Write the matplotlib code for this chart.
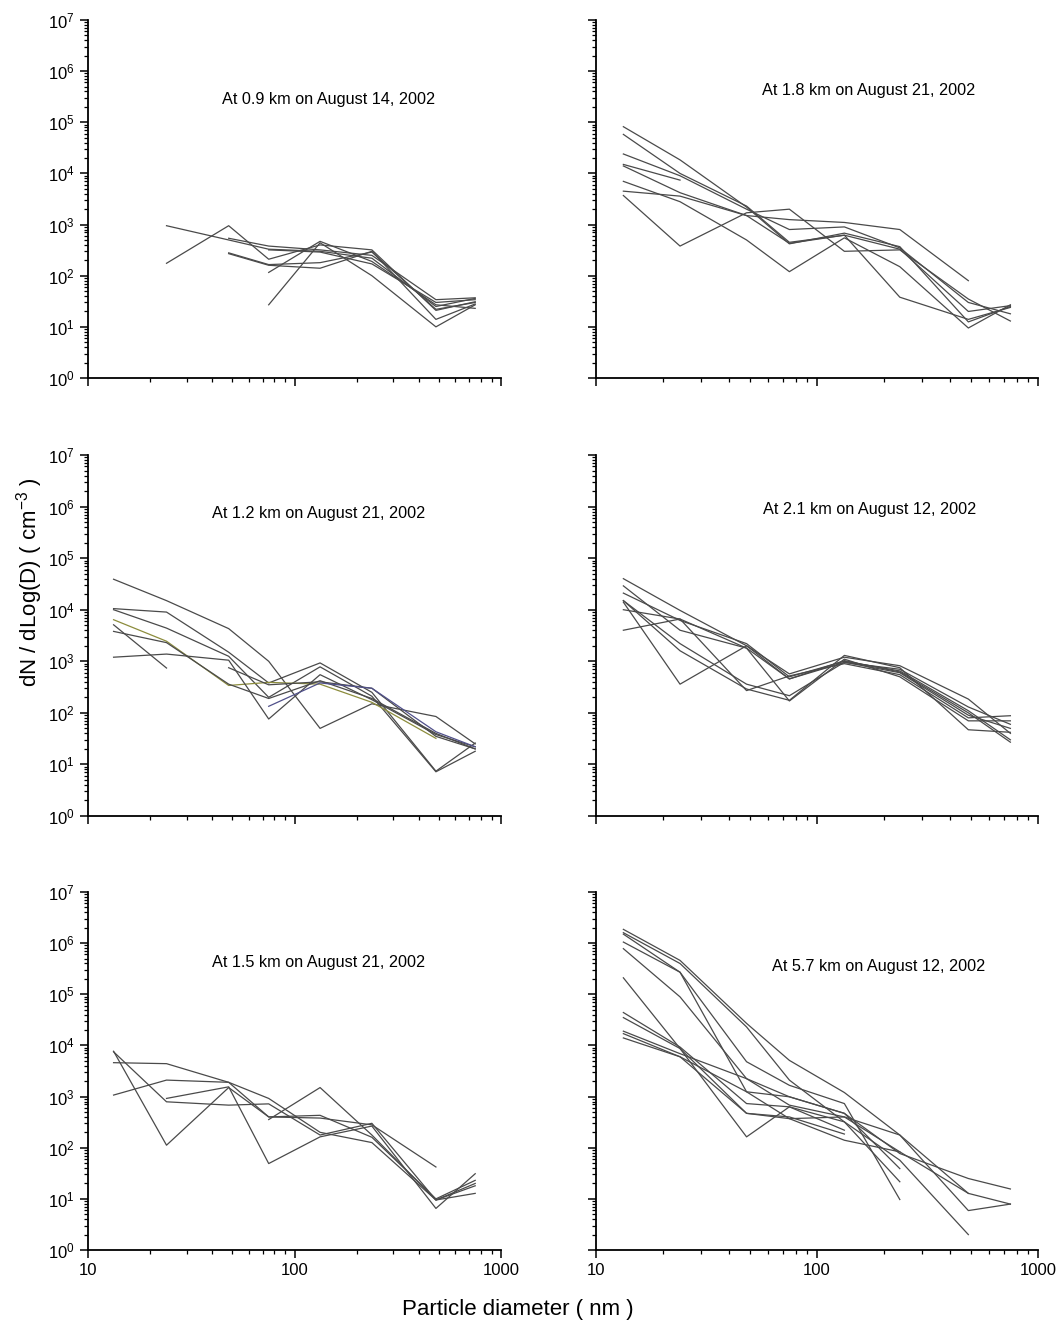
import numpy as np
import matplotlib
matplotlib.use("Agg")
import matplotlib.pyplot as plt
from matplotlib.ticker import LogLocator, FixedLocator, FixedFormatter, NullFormatter

plt.rcParams["font.family"] = ["Liberation Sans", "DejaVu Sans"]
plt.rcParams["mathtext.default"] = "regular"

nan = np.nan

# DMA size bins (nm)
diameter_nm = [13.3, 24, 48, 75, 133, 237, 484, 750]

# dN/dlogD (cm^-3), one row per sample in each flight level
spectra_09km = [
    [nan, 950, 500, 330, 300, 220, 25, 36],
    [nan, 175, 950, 210, 400, 320, 21, 31],
    [nan, nan, nan, 27, 440, 100, 10, 27],
    [nan, nan, 540, 380, 320, 250, 34, 37],
    [nan, nan, 280, 165, 180, 290, 22, 30],
    [nan, nan, 270, 160, 140, 300, 14, 28],
    [nan, nan, nan, 116, 470, 190, 27, 23],
    [nan, nan, nan, 320, 290, 170, 30, 34],
]

spectra_18km = [
    [82000, 18400, 2200, 420, 680, 370, 12.5, 25],
    [58000, 10000, 2300, 450, 620, 330, 20, 26],
    [24000, 9000, 2000, 800, 900, 350, 30, 18],
    [15000, 7400, nan, nan, nan, nan, nan, nan],
    [14000, 4200, 1500, 1250, 1100, 800, 80, nan],
    [7000, 2800, 500, 120, 550, 150, 9.5, 27],
    [4500, 3600, 1500, 430, 620, 38, 14, 24],
    [3700, 380, 1700, 2000, 300, 320, 35, 13],
]

spectra_12km = [
    [39000, 15000, 4300, 1000, 50, 150, 85, 25],
    [10500, 9000, 1500, 380, 930, 250, 7.4, 26],
    [10000, 4400, 1250, 200, 780, 210, 7.2, 18],
    [6400, 2450, 340, 390, 360, 160, 32, nan],
    [5100, 740, nan, nan, nan, nan, nan, nan],
    [3800, 2300, 360, 190, 420, 190, 40, 20],
    [1200, 1380, 1050, 76, 550, 180, 38, 22],
    [nan, nan, 750, 350, 400, 300, 35, 20],
    [nan, nan, nan, 134, 380, 300, 43, 22],
]
# two samples were plotted in colour in the original series
colors_12km = ["#4a4a4a"] * 3 + ["#8c8c3c"] + ["#4a4a4a"] * 4 + ["#50508a"]

spectra_21km = [
    [40000, 9700, 2000, 570, 1200, 820, 185, 40],
    [29000, 4000, 1800, 455, 950, 700, 130, 60],
    [21000, 6200, 2200, 500, 1000, 650, 110, 30],
    [15000, 2200, 360, 215, 960, 600, 90, 50],
    [14000, 360, 2000, 455, 1030, 620, 100, 27],
    [10000, 6600, 270, 520, 900, 550, 80, 88],
    [4000, 6600, 1800, 170, 1100, 500, 70, 70],
    [15000, 1600, 290, 175, 1300, 750, 47, 42],
]

spectra_15km = [
    [7700, 112, 1500, 400, 430, 160, 10, 23],
    [7500, 790, 680, 720, 177, 300, 9.5, 20],
    [4600, 4400, 1900, 920, 200, 126, 9.5, 12.8],
    [1070, 2100, 1900, 400, 380, 280, 42, nan],
    [nan, 920, 1550, 49, 163, 265, 6.5, 31],
    [nan, nan, nan, 355, 1500, 177, 9.5, 18],
]

spectra_57km = [
    [1.86e6, 4.6e5, 2.7e4, 5100, 1200, 177, 5.9, 7.9],
    [1.6e6, 4.0e5, 2.3e4, 2100, 320, 57, 2.0, nan],
    [1.5e6, 2.7e5, 4800, 1660, 730, 9.7, nan, nan],
    [1.05e6, 2.7e5, 1240, 990, 470, 39, nan, nan],
    [7.8e5, 8.9e4, 2240, 680, 400, 83, 12.8, 7.9],
    [2.1e5, 8700, 163, 630, 320, 21.6, nan, nan],
    [4.4e4, 9300, 730, 630, 220, nan, nan, nan],
    [3.5e4, 8700, 470, 400, 185, nan, nan, nan],
    [1.9e4, 6900, 2240, 990, 470, 77, 25, 15.6],
    [1.7e4, 6000, 1240, 370, 140, 83, nan, nan],
    [1.4e4, 6000, 470, 370, 400, 177, 12.8, nan],
]

titles = [
    "At 0.9 km on August 14, 2002", "At 1.8 km on August 21, 2002",
    "At 1.2 km on August 21, 2002", "At 2.1 km on August 12, 2002",
    "At 1.5 km on August 21, 2002", "At 5.7 km on August 12, 2002",
]
spectra = [spectra_09km, spectra_18km, spectra_12km,
           spectra_21km, spectra_15km, spectra_57km]

W, H = 1060, 1329
fig = plt.figure(figsize=(W / 100, H / 100), dpi=100)

# axes boxes in pixels: (left, right) and (top, bottom)
cols = [(88, 501), (596, 1038)]
rows = [(20, 378), (455, 816), (892, 1250)]
text_pos = [(0.324, 0.777), (0.376, 0.804),
            (0.300, 0.839), (0.378, 0.848),
            (0.300, 0.802), (0.398, 0.793)]

for i, (data, title) in enumerate(zip(spectra, titles)):
    r, c = divmod(i, 2)
    x0, x1 = cols[c]
    y0, y1 = rows[r]
    ax = fig.add_axes([x0 / W, 1 - y1 / H, (x1 - x0) / W, (y1 - y0) / H])

    colors = colors_12km if data is spectra_12km else ["#4a4a4a"] * len(data)
    for row, col in zip(data, colors):
        ax.plot(diameter_nm, row, color=col, lw=0.9)

    ax.set_xscale("log")
    ax.set_yscale("log")
    ax.set_xlim(10, 1000)
    ax.set_ylim(1, 1e7)
    for s in ("top", "right"):
        ax.spines[s].set_visible(False)
    for s in ("left", "bottom"):
        ax.spines[s].set_linewidth(1.3)

    ax.yaxis.set_major_locator(LogLocator(base=10, numticks=10))
    ax.yaxis.set_minor_locator(LogLocator(base=10, subs=np.arange(2, 10), numticks=20))
    ax.xaxis.set_major_locator(FixedLocator([10, 100, 1000]))
    ax.xaxis.set_major_formatter(FixedFormatter(["10", "100", "1000"]))
    ax.xaxis.set_minor_locator(LogLocator(base=10, subs=np.arange(2, 10), numticks=20))
    ax.xaxis.set_minor_formatter(NullFormatter())
    ax.tick_params(which="major", direction="out", length=6, width=1.1, labelsize=12)
    ax.tick_params(which="minor", direction="out", length=3, width=0.9)
    if c == 1:
        ax.tick_params(axis="y", labelleft=False)
    if r < 2:
        ax.tick_params(axis="x", labelbottom=False)

    tx, ty = text_pos[i]
    ax.text(tx, ty, title, transform=ax.transAxes, fontsize=11.7,
            ha="left", va="center")

fig.text(30 / W, 1 - 582 / H, "dN / dLog(D) ( cm$^{-3}$ )", rotation=90,
         ha="center", va="center", fontsize=16)
fig.text(518 / W, 1 - 1310 / H, "Particle diameter ( nm )",
         ha="center", va="center", fontsize=16)

fig.savefig("out.png", dpi=100)
